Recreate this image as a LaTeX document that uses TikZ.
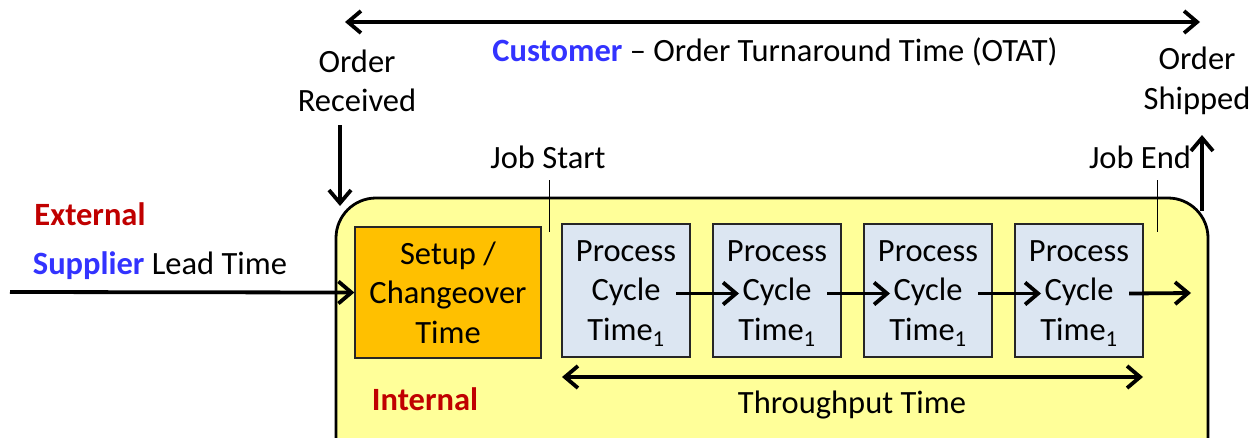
\documentclass[tikz,border=0pt]{standalone}
\usepackage{fontspec}
\setmainfont{Carlito}
\usetikzlibrary{arrows.meta,calc}
\definecolor{custblue}{HTML}{3333FF}
\definecolor{extred}{HTML}{C00000}
\definecolor{yelfill}{HTML}{FFFF99}
\definecolor{orgfill}{HTML}{FFC000}
\definecolor{pbluefill}{HTML}{DCE6F2}
\newcommand{\subone}{\textsubscript{1}}
\begin{document}
\begin{tikzpicture}[x=1pt,y=-1pt,
  font=\fontsize{32.5}{39.5}\selectfont,
  tip/.tip={Straight Barb[length=13pt,width=22pt,line width=3.8pt]},
  arr/.style={line width=3.8pt,-tip},
  darr/.style={line width=3.8pt,tip-tip},
  pbox/.style={draw=black!85,line width=1.3pt,fill=pbluefill,minimum width=128pt,minimum height=133pt,inner sep=0pt,align=center,text depth=0pt},
  lbl/.style={inner sep=0pt,align=center}]
\useasboundingbox (0,0) rectangle (1257,437);
\begin{scope}
\clip (0,0) rectangle (1257,437);
\draw[fill=yelfill,line width=2.8pt,rounded corners=40pt] (336,198) rectangle (1208,490);
\end{scope}
% top arrow
\coordinate (tl) at (345,22);
\coordinate (tr) at (1200,22);
\draw[darr] (tl) -- (tr);
\node[lbl] (otat) at (775,52) {\textcolor{custblue}{\bfseries Customer} -- Order Turnaround Time (OTAT)};
\node[lbl] (recv) at (357,81) {Order\\Received};
\node[lbl] (ship) at (1197,81) {Order\\Shipped};
\coordinate (rtop) at (340,125);
\coordinate (rbot) at (340,206);
\draw[arr] (rtop) -- (rbot);
\coordinate (sbot) at (1202,211);
\coordinate (stop) at (1202,135);
\draw[arr] (sbot) -- (stop);
\node[lbl] (jstart) at (548,157) {Job Start};
\node[lbl] (jend) at (1140,157) {Job End};
\coordinate (js1) at (549,180);
\coordinate (js2) at (549,232);
\draw[line width=0.8pt] (js1) -- (js2);
\coordinate (je1) at (1157,180);
\coordinate (je2) at (1157,232);
\draw[line width=0.8pt] (je1) -- (je2);
\node[lbl,text=extred,font=\fontsize{32.5}{39.5}\selectfont\bfseries] (ext) at (90,214) {External};
\node[lbl] (sup) at (160,266) {\textcolor{custblue}{\bfseries Supplier} Lead Time};
\node[lbl,text=extred,font=\fontsize{32.5}{39.5}\selectfont\bfseries] (int) at (425,399) {Internal};
% boxes
\node[draw=black!85,line width=1.3pt,fill=orgfill,minimum width=186pt,minimum height=131pt,inner sep=0pt,align=center] (setup) at (448,292.5) {Setup /\\Changeover\\Time};
\node[pbox] (p1) at (626,290.5) {Process\\Cycle\\Time\subone};
\node[pbox] (p2) at (777,290.5) {Process\\Cycle\\Time\subone};
\node[pbox] (p3) at (928,290.5) {Process\\Cycle\\Time\subone};
\node[pbox] (p4) at (1079,290.5) {Process\\Cycle\\Time\subone};
\coordinate (ein) at (10,292);
\draw[arr] (ein) -- (setup.west);
\draw[arr] ($(p1.center)+(50,3)$) -- ($(p2.center)+(-38,3)$);
\draw[arr] ($(p2.center)+(50,3)$) -- ($(p3.center)+(-38,3)$);
\draw[arr] ($(p3.center)+(50,3)$) -- ($(p4.center)+(-38,3)$);
\coordinate (outend) at (1191,293);
\draw[arr] ($(p4.center)+(50,3)$) -- (outend);
\coordinate (thl) at (562,377);
\coordinate (thr) at (1143,377);
\draw[darr] (thl) -- (thr);
\node[lbl] (thru) at (852,405) {Throughput Time};
\end{tikzpicture}
\end{document}
